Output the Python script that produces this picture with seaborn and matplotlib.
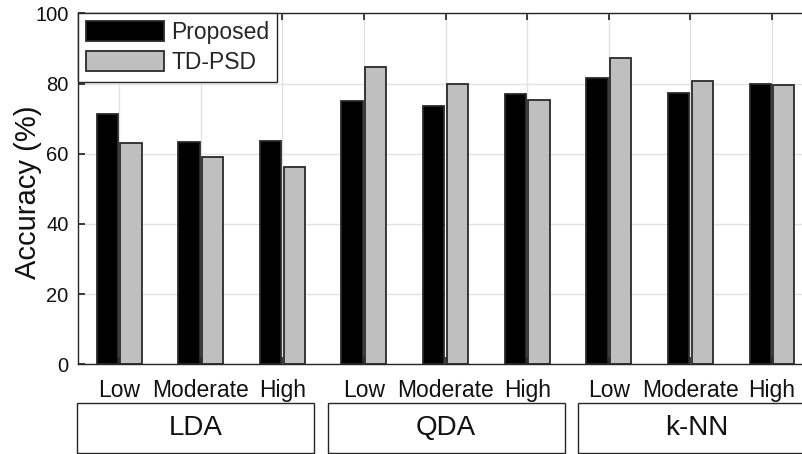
import matplotlib
matplotlib.use("Agg")
import matplotlib.pyplot as plt
import seaborn as sns
import pandas as pd
from matplotlib.patches import Rectangle

classifiers = ["LDA", "QDA", "k-NN"]
levels = ["Low", "Moderate", "High"]
methods = ["Proposed", "TD-PSD"]
proposed = [71.2, 63.3, 63.6, 75.0, 73.6, 77.1, 81.6, 77.2, 79.9]
td_psd = [63.1, 59.1, 56.3, 84.7, 79.8, 75.4, 87.3, 80.8, 79.5]

conds = [f"{c}-{l}" for c in classifiers for l in levels]
df = pd.DataFrame({
    "cond": conds * 2,
    "method": [methods[0]] * 9 + [methods[1]] * 9,
    "acc": proposed + td_psd,
})

sns.set_theme(style="white")
plt.rcParams["font.family"] = ["Liberation Sans", "DejaVu Sans"]

W, H = 803, 454
fig = plt.figure(figsize=(W / 100, H / 100), dpi=100)
ax_left, ax_right, ax_bottom, ax_top = 78.3, 812.8, 364.3, 13.3
ax = fig.add_axes([ax_left / W, (H - ax_bottom) / H,
                   (ax_right - ax_left) / W, (ax_bottom - ax_top) / H])

sns.barplot(data=df, x="cond", y="acc", hue="method", order=conds,
            hue_order=methods, palette=["#000000", "#bfbfbf"],
            width=0.58, gap=0.1, edgecolor="#2a2a2a", linewidth=1.3,
            ax=ax, zorder=3)

ax.set_xlim(-0.5, 8.5)
ax.set_ylim(0, 100)
ax.set_yticks([0, 20, 40, 60, 80, 100])
ax.set_xticks(range(9))
ax.set_xticklabels(levels * 3, fontsize=16.5)
ax.tick_params(axis="x", direction="in", length=5, top=True, bottom=True,
               pad=10.5, color="#262626", labelcolor="#111111")
ax.tick_params(axis="y", direction="in", length=5, left=True, right=True,
               labelsize=14.5, pad=7, color="#262626", labelcolor="#111111")
ax.set_xlabel("")
ax.set_ylabel("Accuracy (%)", fontsize=21, color="#111111")
ax.yaxis.set_label_coords(-0.049, 0.49)
ax.grid(True, color="#e2e2e2", linewidth=1.0, zorder=0)
ax.set_axisbelow(True)
for s in ax.spines.values():
    s.set_color("#262626")
    s.set_linewidth(1.0)
    s.set_zorder(5)

leg = ax.legend(loc="upper left", fontsize=16.5, frameon=True, fancybox=False,
                edgecolor="#262626", handlelength=3.4, handleheight=0.96,
                handletextpad=0.3, labelspacing=0.3, borderpad=0.35,
                borderaxespad=0.0)
leg.get_frame().set_linewidth(1.0)
leg.get_frame().set_alpha(1.0)

# group label boxes below the axis
box_left0, box_step, box_w = 77.0, 250.6, 237.0
box_top, box_bot = 403.3, 453.3
for g, name in enumerate(classifiers):
    x0 = box_left0 + g * box_step
    fig.patches.append(Rectangle((x0 / W, (H - box_bot) / H), box_w / W,
                                 (box_bot - box_top) / H, transform=fig.transFigure,
                                 fill=False, edgecolor="#262626", linewidth=1.0))
    fig.text((x0 + box_w / 2) / W, (H - (box_top + box_bot) / 2) / H, name,
             ha="center", va="center", fontsize=20, color="#111111")

fig.savefig("out.png", dpi=100)
